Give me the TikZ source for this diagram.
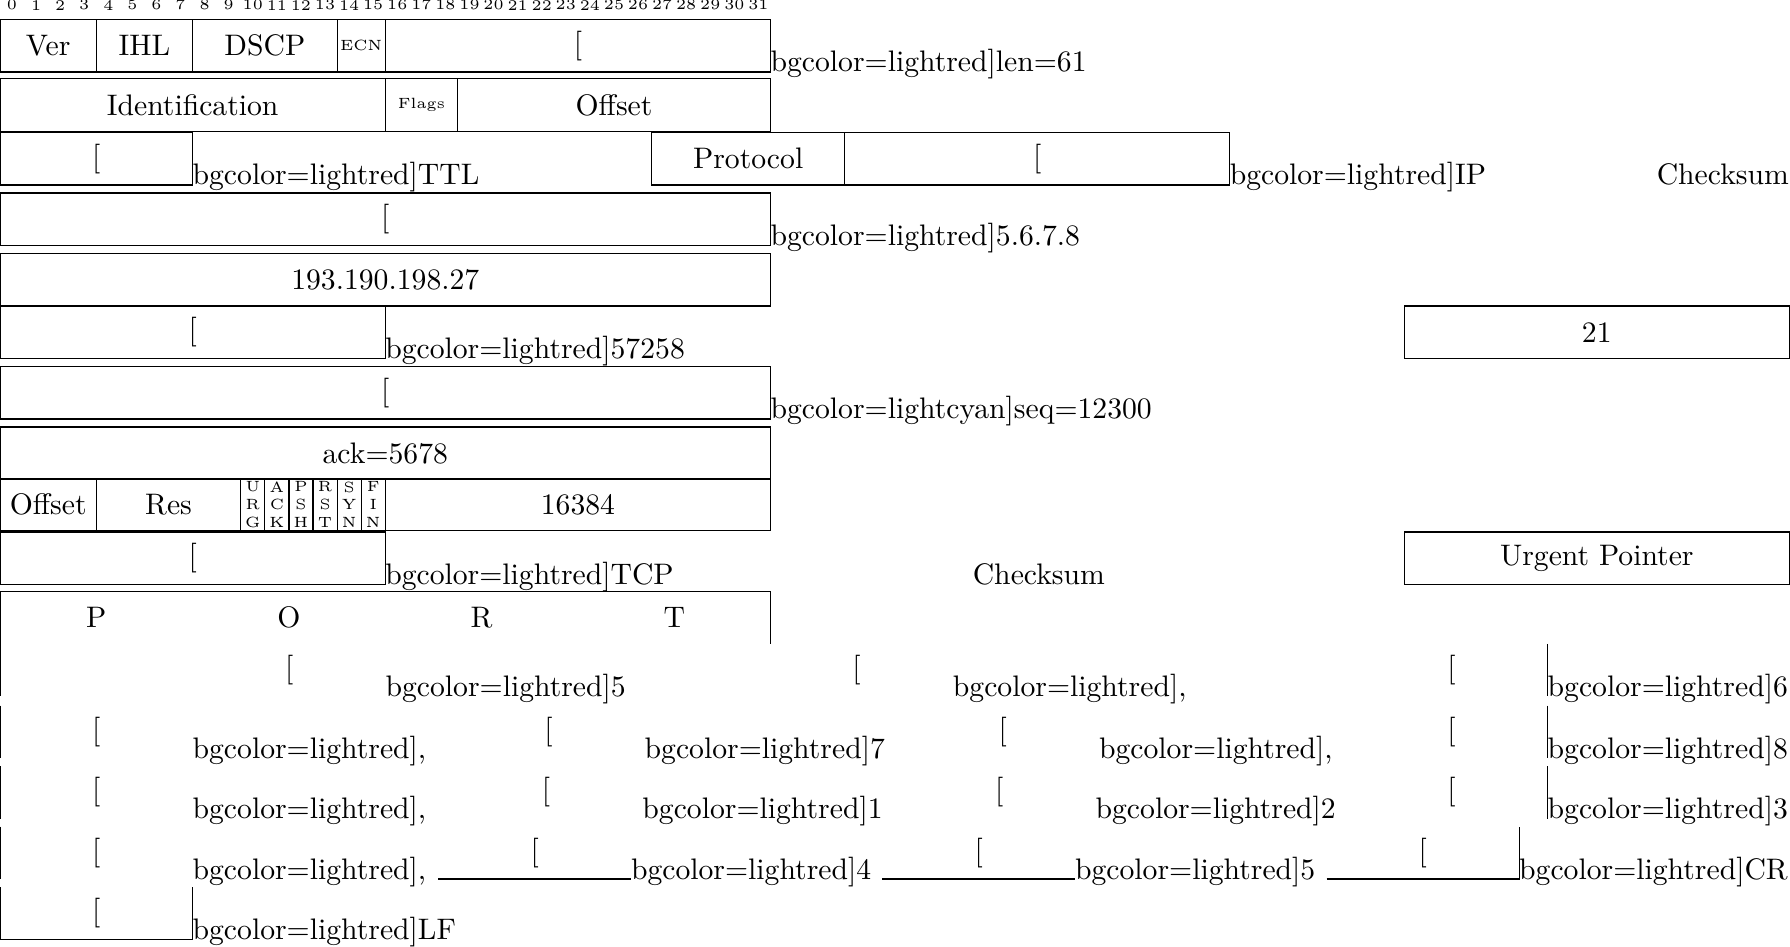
\documentclass[tikz,border=0pt]{standalone}
\usepackage{tikz}
\usetikzlibrary{positioning}
\newcommand{\unitpx}{0.3846pt}
\tikzset{
    x=\unitpx, y=-\unitpx,
    field/.style ={draw, inner sep=0pt, outer sep=0pt, anchor=north west, minimum height=46*\unitpx},
    cell/.style  ={inner sep=0pt, outer sep=0pt, anchor=north west, minimum height=46*\unitpx},
    bits/.style  ={minimum width=#1*21.094*\unitpx},
    spill/.style ={inner sep=0pt, outer sep=0pt, anchor=base west},
    bitnum/.style={inner sep=0pt, font=\tiny},
    flag/.style  ={field, bits=1, font=\tiny, align=center}
}
\begin{document}
\begin{tikzpicture}
  \useasboundingbox (0,0) rectangle (1568,829);

  % bit numbers
  \foreach \i in {0,...,31}
    \node[bitnum] (bit\i) at (10.5+21.094*\i,4.5) {\i};

  % IP header
  \node[field, bits=4] (ver) at (0,17) {Ver};
  \node[field, bits=4, right=0pt of ver] (ihl) {IHL};
  \node[field, bits=6, right=0pt of ihl] (dscp) {DSCP};
  \node[field, bits=2, right=0pt of dscp, font=\tiny] (ecn) {ECN};
  \node[field, bits=16, right=0pt of ecn] (len) {[};
  \node[spill] (lenTxt) at (len.south east) {bgcolor=lightred]len=61};

  \node[field, bits=16] (ident) at (0,69) {Identification};
  \node[field, bits=3, right=0pt of ident, font=\tiny] (flags) {Flags};
  \node[field, bits=13, right=0pt of flags] (frag) {Offset};

  \node[field, bits=8] (ttl) at (0,116) {[};
  \node[spill] (ttlTxt) at (ttl.south east) {bgcolor=lightred]TTL};
  \node[field, bits=8] (proto) at (571,116) {Protocol};
  \node[field, bits=16, right=0pt of proto] (ipsum) {[};
  \node[spill] (ipsumTxt) at (ipsum.south east) {bgcolor=lightred]IP};
  \node[spill, anchor=base east] (ipsumTxtB) at (1567,162) {Checksum};

  \node[field, bits=32] (src) at (0,169) {[};
  \node[spill] (srcTxt) at (src.south east) {bgcolor=lightred]5.6.7.8};
  \node[field, bits=32] (dst) at (0,222) {193.190.198.27};

  % TCP header
  \node[field, bits=16] (sport) at (0,268) {[};
  \node[spill] (sportTxt) at (sport.south east) {bgcolor=lightred]57258};
  \node[field, bits=16] (dport) at (1230,268) {21};

  \node[field, bits=32] (seq) at (0,321) {[};
  \node[spill] (seqTxt) at (seq.south east) {bgcolor=lightcyan]seq=12300};
  \node[field, bits=32] (ack) at (0,374) {ack=5678};

  \node[field, bits=4] (doff) at (0,419) {Offset};
  \node[field, bits=6, right=0pt of doff] (res) {Res};
  \node[flag, right=0pt of res] (urg) {U\\R\\G};
  \node[flag, right=0pt of urg] (ackf) {A\\C\\K};
  \node[flag, right=0pt of ackf] (psh) {P\\S\\H};
  \node[flag, right=0pt of psh] (rst) {R\\S\\T};
  \node[flag, right=0pt of rst] (syn) {S\\Y\\N};
  \node[flag, right=0pt of syn] (fin) {F\\I\\N};
  \node[field, bits=16, right=0pt of fin] (win) {16384};

  \node[field, bits=16] (tcpsum) at (0,466) {[};
  \node[spill] (tcpsumTxt) at (tcpsum.south east) {bgcolor=lightred]TCP};
  \node[spill, anchor=base] (tcpsumTxtB) at (910,512) {Checksum};
  \node[field, bits=16] (urgp) at (1230,466) {Urgent Pointer};

  % payload
  \node[cell, bits=32] (port) at (0,518) {};
  \draw (port.south west) -- (port.north west) -- (port.north east) -- (port.south east);
  \foreach \c [count=\k] in {P,O,R,T}
    \node (port\k) at (-84.4+168.75*\k,541) {\c};

  \draw (port.south west) -- ++(0,46);
  \foreach \xa/\lbl [count=\k] in {169/5, 666/{,}, 1187/6} {
    \node[cell, bits=8] (r12c\k) at (\xa,564) {[};
    \node[spill] (r12t\k) at (r12c\k.south east) {bgcolor=lightred]\lbl};
  }
  \draw (r12c3.north east) -- (r12c3.south east);

  \foreach \xa/\lbl [count=\k] in {0/{,}, 396/7, 794/{,}, 1187/8} {
    \node[cell, bits=8] (r13c\k) at (\xa,618) {[};
    \node[spill] (r13t\k) at (r13c\k.south east) {bgcolor=lightred]\lbl};
  }
  \draw (r13c1.north west) -- (r13c1.south west);
  \draw (r13c4.north east) -- (r13c4.south east);

  \foreach \xa/\lbl [count=\k] in {0/{,}, 394/1, 791/2, 1187/3} {
    \node[cell, bits=8] (r14c\k) at (\xa,671) {[};
    \node[spill] (r14t\k) at (r14c\k.south east) {bgcolor=lightred]\lbl};
  }
  \draw (r14c1.north west) -- (r14c1.south west);
  \draw (r14c4.north east) -- (r14c4.south east);

  \foreach \xa/\lbl [count=\k] in {0/{,}, 384/4, 773/5, 1162/CR} {
    \node[cell, bits=8] (r15c\k) at (\xa,724) {[};
    \node[spill] (r15t\k) at (r15c\k.south east) {bgcolor=lightred]\lbl};
  }
  \draw (r15c1.north west) -- (r15c1.south west);
  \draw (r15c2.south west) -- (r15c2.south east);
  \draw (r15c3.south west) -- (r15c3.south east);
  \draw (r15c4.south west) -- (r15c4.south east) -- (r15c4.north east);

  \node[cell, bits=8] (lf) at (0,777) {[};
  \draw (lf.north west) -- (lf.south west) -- (lf.south east) -- (lf.north east);
  \node[spill] (lfTxt) at (lf.south east) {bgcolor=lightred]LF};
\end{tikzpicture}
\end{document}
